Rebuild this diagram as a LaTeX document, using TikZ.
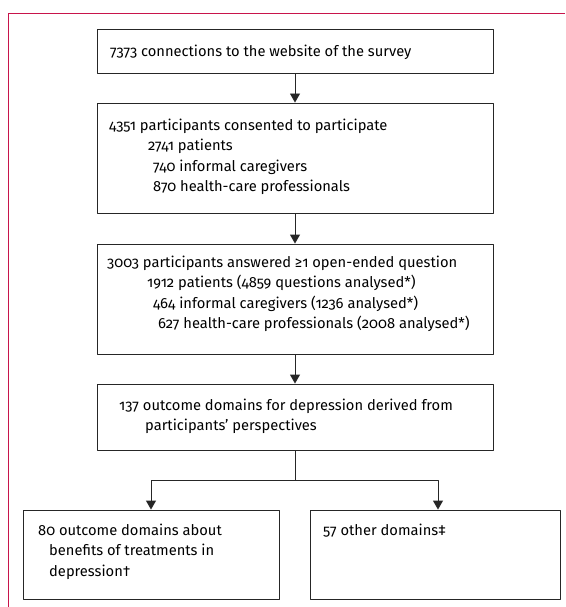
\documentclass[tikz,border=0pt]{standalone}
\usepackage{fontspec}
\setmainfont{Fira Sans}[Numbers=OldStyle]
\usetikzlibrary{arrows.meta}
\definecolor{lancetred}{RGB}{200,20,75}
\begin{document}
\begin{tikzpicture}[x=1pt, y=-1pt, line join=round, >={Triangle[width=10pt,length=9pt]},
    box/.style={draw=black!85, line width=0.9pt, minimum width=396pt, inner sep=0pt},
    txt/.style={align=left, anchor=north west, inner sep=0pt, font=\fontsize{14.7}{20.5}\selectfont},
    arr/.style={->, line width=0.9pt, draw=black!85}]
  \useasboundingbox (0,0) rectangle (565,607);
  % frame
  \draw[lancetred, line width=1pt] (565,14) -- (8.5,14) -- (8.5,607);
  % boxes
  \node[box, minimum height=44pt] (conn) at (295,51) {};
  \node[box, minimum height=110pt] (cons) at (295,158) {};
  \node[box, minimum height=110pt] (answ) at (295,299) {};
  \node[box, minimum height=66pt] (dom) at (295,417) {};
  \node[box, minimum width=256pt, minimum height=89pt] (benef) at (151,554.5) {};
  \node[box, minimum width=250pt, minimum height=89pt] (other) at (435,554.5) {};
  % texts
  \node[txt] (tconn) at (110,44.6) {7373 connections to the website of the survey};
  \node[txt] (tcons) at (109,118.6) {4351 participants consented to participate\\
    \hspace*{39pt}2741 patients\\
    \hspace*{44pt}740 informal caregivers\\
    \hspace*{44pt}870 health-care professionals};
  \node[txt] (tansw) at (107,255.6) {3003 participants answered ≥1 open-ended question\\
    \hspace*{40pt}1912 patients (4859 questions analysed*)\\
    \hspace*{46pt}464 informal caregivers (1236 analysed*)\\
    \hspace*{51pt}627 health-care professionals (2008 analysed*)};
  \node[txt] (tdom) at (119,398.6) {137 outcome domains for depression derived from\\
    \hspace*{26pt}participants’ perspectives};
  \node[txt] (tbenef) at (38,523.6) {80 outcome domains about\\
    \hspace*{11pt}benefits of treatments in\\
    \hspace*{11pt}depression†};
  \node[txt] (tother) at (323,523.6) {57 other domains‡};
  % connectors
  \coordinate (split) at (295,480);
  \draw[arr] (conn.south) -- (cons.north);
  \draw[arr] (cons.south) -- (answ.north);
  \draw[arr] (answ.south) -- (dom.north);
  \draw[arr, -] (dom.south) -- (split);
  \draw[arr] (split) -| (benef.north);
  \draw[arr] (split) -| ([xshift=3pt]other.north);
\end{tikzpicture}
\end{document}
